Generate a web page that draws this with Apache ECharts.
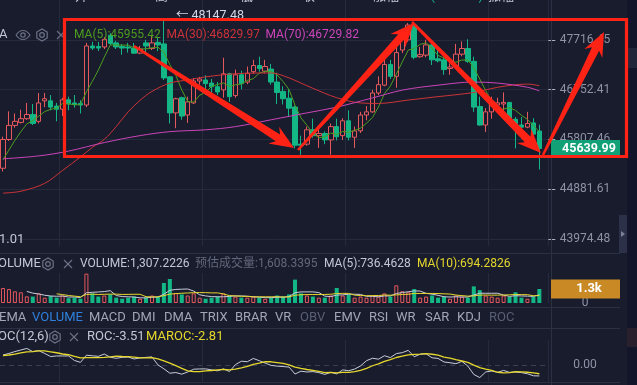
<!DOCTYPE html>
<html><head><meta charset="utf-8">
<script src="https://cdn.jsdelivr.net/npm/echarts@6/dist/echarts.min.js"></script>
<style>html,body{margin:0;padding:0;background:#191c2d;}#c{width:637px;height:385px;}</style>
</head><body><div id="c"></div><script>
// ---------------- DATA ----------------
const opens = [45270,45807,46073,46130,46200,46280,46150,46540,46540,46440,46380,46560,46500,46490,46460,47600,47590,47580,47810,47660,47590,47580,47560,47460,47660,47550,47670,47640,47000,46310,46600,46270,46500,46920,46940,46880,46810,46750,47060,46640,47040,46900,47100,47220,47110,47150,46900,46720,46590,46420,45720,45720,45990,45880,45920,45800,46050,45880,46160,45850,45970,46270,46330,46690,46840,47240,47010,47520,47720,48010,47390,47420,47620,47350,47330,47160,47190,47440,47550,47300,46430,46080,46330,46460,46480,46510,46190,46080,46040,46120,45966.12];
const closes = [45807,46073,46150,46200,46280,46110,46500,46580,46420,46380,46560,46480,46470,46460,47600,47560,47560,47730,47650,47580,47560,47560,47460,47540,47600,47660,47620,46980,46310,46580,46250,46520,46920,46960,46870,46810,46710,47060,46620,47040,46870,47070,47220,47160,47200,46900,46700,46580,46400,45700,45700,45990,45880,45920,45800,46050,45860,46160,45850,45970,46270,46330,46690,46850,47240,47010,47470,47870,48010,47380,47430,47620,47330,47310,47140,47190,47440,47550,47300,46420,46080,46330,46510,46500,46510,46190,46080,46040,46110,45908.13,45639.99];
const lows = [45210,45780,46030,46110,46180,46080,46110,46420,46360,46150,46250,46360,46410,46300,46420,47520,47500,47540,47620,47540,47430,47470,47450,47440,47480,47520,47500,46940,46110,46020,46180,46120,46480,46850,46650,46680,46650,46600,46520,46600,46760,46860,47060,47100,47070,46850,46480,46470,46230,45640,45520,45690,45840,45650,45720,45520,45790,45800,45790,45650,45930,46170,46310,46650,46820,46960,46790,47460,47680,47340,47370,47380,47230,47280,47040,47040,47150,47400,47270,46330,46070,45950,46200,46350,46310,46110,45640,45830,46020,45820,45247.70];
const highs = [45860,46340,46300,46370,46500,46480,46690,46690,46650,46500,46600,46620,46650,46550,47660,47680,47680,47770,47850,47700,47640,47660,47660,47600,47720,47800,47780,48147.48,47010,46600,46620,46620,46980,47000,47030,46960,46900,47370,47080,47140,47120,47200,47330,47390,47330,47250,47080,46820,46760,46450,45880,46050,46200,45990,45960,46110,46200,46210,46360,46050,46330,46440,46750,47010,47390,47330,47680,47930,48050,48060,47580,47720,47660,47550,47370,47260,47640,47690,47730,47390,46620,46400,46620,46600,46700,46510,46230,46230,46330,46210,46086.00];
const volumes = [1400,1300,1090,1000,620,600,900,500,650,500,700,450,500,400,2740,900,600,700,800,500,400,500,600,400,500,700,600,1870,2240,930,800,700,900,500,400,500,600,900,700,600,500,500,600,500,400,500,700,600,800,2180,900,700,600,500,500,700,1400,700,800,500,600,500,700,600,900,600,1650,1100,1000,1300,500,600,700,500,600,400,700,600,500,1550,1200,700,600,500,700,600,1000,500,400,600,1307.2226];
const ma5Lead = [45430,45610,45790,45955];
const ma30Idx = [0,3,7,10,13,15,17,19,21,23,25,28,31,34,39,45,48,50,52,56,60,63,68,73,79,83,88,90];
const ma30Val = [44810,44845,44990,45230,45480,45660,45810,46050,46330,46550,46720,46880,46940,47000,47060,47075,46980,46880,46780,46600,46500,46490,46555,46620,46700,46800,46860,46829.97];
const ma70Idx = [0,6,11,17,23,28,34,39,45,51,56,62,67,73,79,83,88,90];
const ma70Val = [45445,45500,45590,45750,45880,45955,45990,46050,46180,46310,46420,46595,46745,46840,46900,46880,46800,46729.82];
const rocLead = [3.2,3.7,4.3,4.8,5.3,4.3,4.6,3.7,2.7,2.9,2.9,2.9];
const marocLead = [3.0,3.2,3.5,3.9,4.2];
const priceTicks = [47716.45,46752.41,45807.46,44881.61,43974.48];
const tabs = ['EMA','VOLUME','MACD','DMI','DMA','TRIX','BRAR','VR','OBV','EMV','RSI','WR','SAR','KDJ','ROC'];
const tabX = [-1,32,89,132,164,200,235,275,300,334,369,396,425,457,489];

// ---------------- derived ----------------
const N = closes.length;
const times = [];
{ let t = Date.UTC(2021,7,13,14); for (let i=0;i<N;i++){ const d=new Date(t+i*3600e3); times.push((d.getUTCMonth()+1)+'-'+d.getUTCDate()+' '+d.getUTCHours()+':00'); } }
times.push('');
const avg = (a,i,n)=>{let s=0;for(let j=i-n+1;j<=i;j++)s+=a[j];return s/n;};
const ma5 = closes.map((c,i)=> i<4 ? ma5Lead[i] : +avg(closes,i,5).toFixed(2));
const ma30 = new Array(N).fill(null); ma30Idx.forEach((k,j)=>ma30[k]=ma30Val[j]);
const ma70 = new Array(N).fill(null); ma70Idx.forEach((k,j)=>ma70[k]=ma70Val[j]);
const roc = closes.map((c,i)=> i<12 ? rocLead[i] : (c-closes[i-12])/closes[i-12]*100);
const maroc = roc.map((r,i)=> i<5 ? marocLead[i] : avg(roc,i,6));
const vma5 = volumes.map((v,i)=> i<4 ? null : avg(volumes,i,5));
const vma10 = volumes.map((v,i)=> i<9 ? null : avg(volumes,i,10));

// ---------------- style ----------------
const BG='#191c2d', GRIDC='#252a3d', SEP='#2c3045', TXT='#c3c7d4', AX='#8d92a5';
const RED='#e5595d', GREEN='#13b786', MA5C='#4c9c20', MA30C='#cc3338', MA70C='#cc44b8', YEL='#e5d72c', WL='#c8ccda';
const FONT='Roboto, "Noto Sans CJK SC", sans-serif';
const L=-3.7, W=552;

const chart = echarts.init(document.getElementById('c'));
const xBase = (gi)=>({type:'category', gridIndex:gi, data:times, boundaryGap:true,
  axisLine:{show:false}, axisTick:{show:false}, axisLabel:{show:false},
  splitLine:{show:true, interval:(i)=> (i-10)%24===0, lineStyle:{color:GRIDC, width:1}}});
const lineS = (name, data, color, xi, yi, extra)=>Object.assign({type:'line', name, data, xAxisIndex:xi, yAxisIndex:yi,
  showSymbol:false, symbol:'none', lineStyle:{color, width:1}, itemStyle:{color}, silent:true, animation:false}, extra||{});

chart.setOption({
  backgroundColor: BG,
  animation:false,
  grid:[
    {left:L, width:W, top:0, height:246},
    {left:L, width:W, top:273, height:30},
    {left:L, width:W, top:340, height:42}
  ],
  xAxis:[xBase(0), xBase(1), xBase(2)],
  yAxis:[
    {type:'log', gridIndex:0, min:43848.3, max:48506.2, position:'right', scale:true,
     axisLine:{show:false},
     axisTick:{show:true, customValues:priceTicks, length:7, lineStyle:{color:'#a9aebd'}},
     axisLabel:{show:true, customValues:priceTicks, align:'center', margin:36.7, color:AX, fontSize:12, fontFamily:FONT, formatter:(v)=>(+v).toFixed(2)},
     splitLine:{show:true, lineStyle:{color:GRIDC}}},
    {type:'value', gridIndex:1, min:0, max:2800, position:'right',
     axisLine:{show:false}, axisTick:{show:false},
     axisLabel:{show:true, customValues:[0], align:'center', margin:36.7, color:AX, fontSize:12, fontFamily:FONT},
     splitLine:{show:false}},
    {type:'value', gridIndex:2, min:-5.44, max:8, position:'right',
     axisLine:{show:false}, axisTick:{show:false, customValues:[0]},
     axisLabel:{show:true, customValues:[0], align:'center', margin:36.7, color:AX, fontSize:12, fontFamily:FONT, formatter:(v)=>(+v).toFixed(2)},
     splitLine:{show:true, lineStyle:{color:'#3a3f55', type:[5,4]}}}
  ],
  series:[
    {type:'candlestick', xAxisIndex:0, yAxisIndex:0, barWidth:5,
     data: opens.map((o,i)=>[o, closes[i], lows[i], highs[i]]),
     itemStyle:{color:BG, color0:GREEN, borderColor:RED, borderColor0:GREEN, borderWidth:1},
     markPoint:{symbol:'circle', symbolSize:0, silent:true,
       data:[{type:'max', valueDim:'highest'}],
       label:{show:true, position:'right', distance:12, offset:[0,-2], color:'#d4d8e4', fontSize:12.5, fontFamily:FONT,
         formatter:(p)=>'← '+(+p.value).toFixed(2)}}},
    lineS('MA5', ma5, MA5C, 0, 0),
    lineS('MA30', ma30, MA30C, 0, 0, {connectNulls:true, smooth:0.35}),
    lineS('MA70', ma70, MA70C, 0, 0, {connectNulls:true, smooth:0.35}),
    {type:'bar', xAxisIndex:1, yAxisIndex:1, barWidth:4,
     data: volumes.map((v,i)=>({value:v, itemStyle: closes[i]>=opens[i] ? {color:BG, borderColor:RED, borderWidth:1} : {color:GREEN}}))},
    lineS('VMA5', vma5, WL, 1, 1),
    lineS('VMA10', vma10, YEL, 1, 1),
    lineS('ROC', roc, WL, 2, 2),
    lineS('MAROC', maroc, YEL, 2, 2, {lineStyle:{color:YEL, width:1.3}})
  ]
});

// ---------------- overlay graphics ----------------
const g = [];
const txt = (x,y,text,fill,opt)=>g.push(Object.assign({type:'text', x, y, silent:true, z:50,
  style:Object.assign({text, fill, font:'12px '+FONT, textVerticalAlign:'middle', textAlign:'left'}, (opt&&opt.style)||{})}, opt&&opt.top?{z:opt.top}:{}));
const line = (x1,y1,x2,y2,stroke,w)=>g.push({type:'line', silent:true, z:40, shape:{x1,y1,x2,y2}, style:{stroke, lineWidth:w||1}});
const gear = (cx,cy)=>{ const pts=[]; for(let i=0;i<6;i++){const a=Math.PI/6+i*Math.PI/3; pts.push([cx+6*Math.cos(a), cy+6*Math.sin(a)]);} 
  g.push({type:'polygon', silent:true, z:50, shape:{points:pts}, style:{fill:'none', stroke:'#6c7186', lineWidth:1.2}});
  g.push({type:'circle', silent:true, z:50, shape:{cx,cy,r:2.3}, style:{fill:'none', stroke:'#6c7186', lineWidth:1.2}}); };
const cross = (cx,cy)=>{ line(cx-4,cy-4,cx+4,cy+4,'#6c7186',1.1); line(cx-4,cy+4,cx+4,cy-4,'#6c7186',1.1); };

// separators
line(551.5,0,551.5,385,SEP);
line(0,253.5,620,253.5,SEP);
line(0,307.5,620,307.5,SEP);
line(0,328.5,620,328.5,SEP);
line(0,382.5,620,382.5,SEP);
g.push({type:'rect', silent:true, z:5, shape:{x:627,y:0,width:10,height:385}, style:{fill:'#13162a'}});
g.push({type:'rect', silent:true, z:6, shape:{x:627,y:48,width:10,height:20}, style:{fill:'#22263a'}});
g.push({type:'rect', silent:true, z:6, shape:{x:627,y:328,width:10,height:19}, style:{fill:'#2a1f2c'}});
g.push({type:'rect', silent:true, z:6, shape:{x:619,y:215,width:8,height:38}, style:{fill:'#2c3149'}});
g.push({type:'polygon', silent:true, z:7, shape:{points:[[621,231],[625,234],[621,237]]}, style:{fill:'#7d8399'}});

// header (cut off at top)
const hdr = [[0,'21 08 17 08:00',TXT],[75,'开:',TXT],[86,'45966.12',GREEN],[155,'高:',TXT],[167,'46086.00',GREEN],[240,'低:',TXT],[252,'45247.70',GREEN],[302,'收:',TXT],[313,'45639.99',GREEN],[373,'涨幅:',TXT],[392,'-0.57%(-268.14)',GREEN],[488,'振幅:',TXT]];
hdr.forEach(h=>txt(h[0],-3,h[1],h[2],{style:{font:'13px '+FONT}}));

// main pane legend
txt(-1,35,'A',TXT,{style:{font:'13px '+FONT}});
g.push({type:'bezierCurve', silent:true, z:50, shape:{x1:16,y1:35,x2:30,y2:35,cpx1:20,cpy1:29,cpx2:26,cpy2:29}, style:{stroke:'#6c7186', fill:'none', lineWidth:1.2}});
g.push({type:'bezierCurve', silent:true, z:50, shape:{x1:16,y1:35,x2:30,y2:35,cpx1:20,cpy1:41,cpx2:26,cpy2:41}, style:{stroke:'#6c7186', fill:'none', lineWidth:1.2}});
g.push({type:'circle', silent:true, z:50, shape:{cx:23,cy:35,r:2.2}, style:{fill:'none', stroke:'#6c7186', lineWidth:1.2}});
gear(42,35); cross(61,35);
txt(74,35,'MA(5):45955.42',MA5C);
txt(166.5,35,'MA(30):46829.97',MA30C);
txt(265.5,35,'MA(70):46729.82',MA70C);
txt(-1,240,'1.01',TXT,{style:{font:'13px '+FONT}});

// volume title
txt(-2,264,'OLUME',TXT,{style:{font:'13px '+FONT}});
gear(48,264); cross(68,264);
txt(80,264,'VOLUME:1,307.2226',TXT);
txt(195,264,'预估成交量:1,608.3395','#62677b');
txt(324,264,'MA(5):736.4628',TXT);
txt(417,264,'MA(10):694.2826',YEL);

// tabs
tabs.forEach((t,i)=>txt(tabX[i],318,t, t==='VOLUME' ? '#2f80dc' : (t==='OBV'||t==='ROC') ? '#5a5f74' : '#a1a6b8', {style:{font:'13px '+FONT}}));

// roc title
txt(-2,337,'OC(12,6)',TXT,{style:{font:'13px '+FONT}});
gear(55,337); cross(74,337);
txt(87,337,'ROC:-3.51',TXT,{style:{font:'13px '+FONT}});
txt(146,337,'MAROC:-2.81',YEL,{style:{font:'13px '+FONT}});

// price / volume badges placed through the library scales
const yP = chart.convertToPixel({yAxisIndex:0}, closes[N-1]);
g.push({type:'rect', silent:true, z:60, shape:{x:551,y:yP-8.5,width:69,height:17}, style:{fill:'#12a077'}});
line(553,yP,558,yP,'#ffffff',1.2);
g.push({type:'text', silent:true, z:61, x:589, y:yP, style:{text:(closes[N-1]).toFixed(2), fill:'#ffffff', font:'bold 12.5px '+FONT, textAlign:'center', textVerticalAlign:'middle'}});
const yV = chart.convertToPixel({yAxisIndex:1}, volumes[N-1]);
g.push({type:'rect', silent:true, z:60, shape:{x:551,y:yV-9.5,width:69,height:19}, style:{fill:'#c98a26'}});
line(553,yV,558,yV,'#ffffff',1.2);
g.push({type:'text', silent:true, z:61, x:589, y:yV, style:{text:(volumes[N-1]/1000).toFixed(1)+'k', fill:'#ffffff', font:'bold 13px '+FONT, textAlign:'center', textVerticalAlign:'middle'}});

// red hand-drawn annotation
const ARED='#ff2316';
g.push({type:'rect', silent:true, z:90, shape:{x:64.5,y:19.5,width:562,height:137}, style:{fill:'none', stroke:ARED, lineWidth:3.2}});
const arrow = (x1,y1,x2,y2)=>{
  const dx=x2-x1, dy=y2-y1, len=Math.hypot(dx,dy), ux=dx/len, uy=dy/len, nx=-uy, ny=ux;
  const hl=24, w1=2.5, w2=8, hw=20;
  const bx=x2-ux*hl, by=y2-uy*hl, bx2=x2-ux*(hl-5), by2=y2-uy*(hl-5);
  const pts=[[x1+nx*w1/2,y1+ny*w1/2],[bx2+nx*w2/2,by2+ny*w2/2],[bx+nx*hw/2,by+ny*hw/2],[x2,y2],[bx-nx*hw/2,by-ny*hw/2],[bx2-nx*w2/2,by2-ny*w2/2],[x1-nx*w1/2,y1-ny*w1/2]];
  g.push({type:'polygon', silent:true, z:91, shape:{points:pts}, style:{fill:ARED}});
};
arrow(134,46,294,148);
arrow(298,150,414,23);
arrow(412,22,541,153);
arrow(543,155,604,32);

chart.setOption({graphic:{elements:g}});
</script></body></html>
